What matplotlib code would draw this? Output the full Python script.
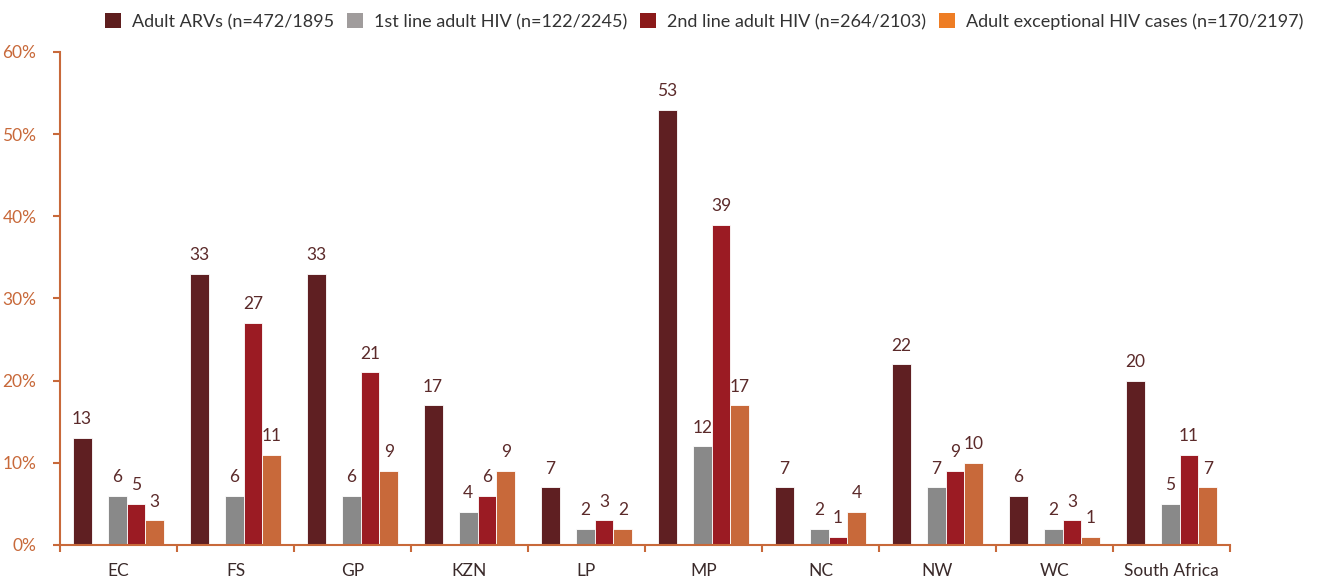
import matplotlib
matplotlib.use('Agg')
import matplotlib.pyplot as plt
import numpy as np
from matplotlib.patches import Patch

regions = ['EC', 'FS', 'GP', 'KZN', 'LP', 'MP', 'NC', 'NW', 'WC', 'South Africa']
arvs = [13, 33, 33, 17, 7, 53, 7, 22, 6, 20]
first_line = [6, 6, 6, 4, 2, 12, 2, 7, 2, 5]
second_line = [5, 27, 21, 6, 3, 39, 1, 9, 3, 11]
exceptional = [3, 11, 9, 9, 2, 17, 4, 10, 1, 7]
labels = ['Adult ARVs (n=472/1895', '1st line adult HIV (n=122/2245)',
          '2nd line adult HIV (n=264/2103)', 'Adult exceptional HIV cases (n=170/2197)']

bar_colors = ['#5F1F22', '#898989', '#9B1B23', '#C8693A']
legend_colors = ['#5E1E1E', '#A09C9C', '#8B1A1A', '#EE7D24']
axis_col = '#C8693A'
text_col = '#5B2A2A'

plt.rcParams['font.family'] = ['Lato', 'DejaVu Sans']

fig = plt.figure(figsize=(13.26, 5.81), dpi=100)
ax = fig.add_axes([0.0452, 0.062, 0.8824, 0.8485])

x = np.arange(len(regions))
w = 0.16
offsets = [-0.31, -0.01, 0.15, 0.31]
series = [arvs, first_line, second_line, exceptional]
for vals, off, col in zip(series, offsets, bar_colors):
    bars = ax.bar(x + off, vals, width=w, color=col, edgecolor='white', linewidth=0.6)
    for b, v in zip(bars, vals):
        ax.text(b.get_x() + b.get_width() / 2, v + 1.3, str(v), ha='center', va='bottom',
                fontsize=12.5, color=text_col)

ax.set_xlim(-0.5, len(regions) - 0.5)
ax.set_ylim(0, 60)
ax.set_yticks(range(0, 61, 10))
ax.set_yticklabels([f'{t}%' for t in range(0, 61, 10)], color=axis_col, fontsize=12.5)
ax.set_xticks(x)
ax.set_xticklabels(regions, color='#3A2A2A', fontsize=12.5)
ax.set_xticks(np.arange(-0.5, len(regions)), minor=True)
ax.tick_params(axis='x', which='major', length=0, pad=13)
ax.tick_params(axis='x', which='minor', length=5, color=axis_col, width=1.5, direction='out')
ax.tick_params(axis='y', length=5, color=axis_col, width=1.5, pad=12)
for s in ['top', 'right']:
    ax.spines[s].set_visible(False)
for s in ['left', 'bottom']:
    ax.spines[s].set_color(axis_col)
    ax.spines[s].set_linewidth(1.5)

handles = [Patch(facecolor=c) for c in legend_colors]
fig.legend(handles, labels, ncol=4, loc='upper right', bbox_to_anchor=(0.995, 1.005),
           frameon=False, fontsize=13, handlelength=0.9, handleheight=0.9,
           columnspacing=0.7, handletextpad=0.6, labelcolor='#333333')

fig.savefig('out.png', dpi=100)
